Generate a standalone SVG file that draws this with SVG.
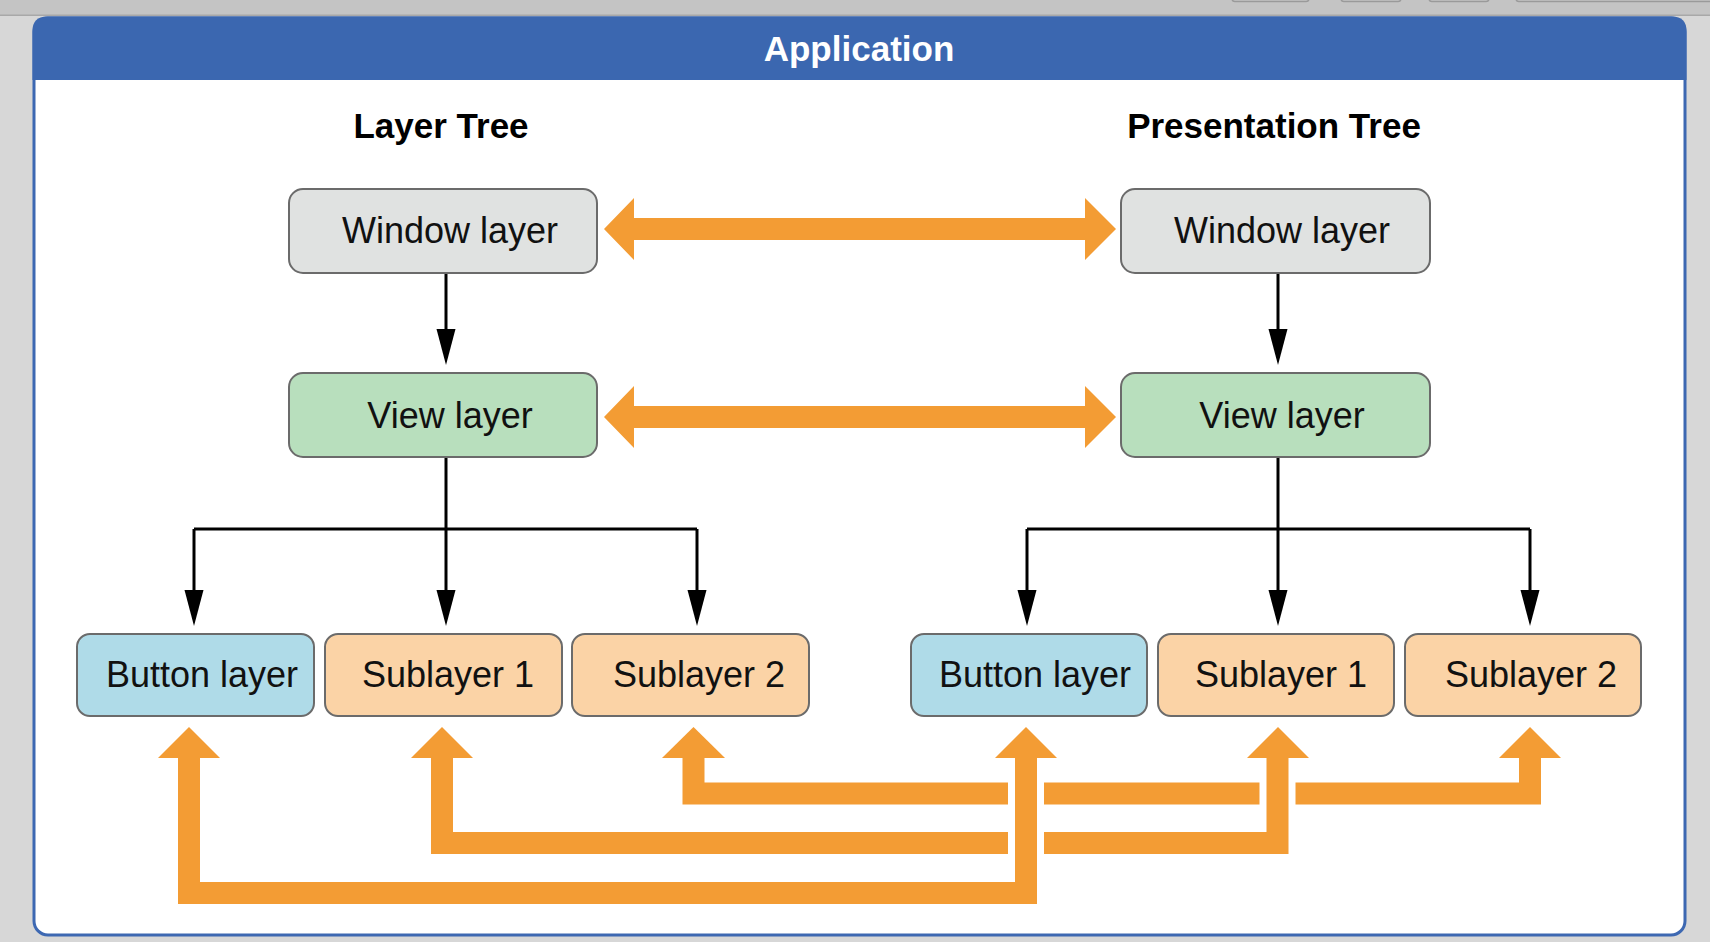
<svg xmlns="http://www.w3.org/2000/svg" width="1710" height="942" viewBox="0 0 1710 942">
<defs>
<style>
.box{stroke:#6b6b6b;stroke-width:2}
.win{fill:#e0e2e1}
.view{fill:#b8dfbd}
.btn{fill:#afdbe8}
.sub{fill:#fbd3a6}
.lbl{font-family:"Liberation Sans",Arial,Helvetica,sans-serif;font-size:36px;fill:#111;text-anchor:middle}
.hdr{font-family:"Liberation Sans",Arial,Helvetica,sans-serif;font-size:35px;font-weight:bold;text-anchor:middle}
.conn{fill:none;stroke:#000;stroke-width:3}
.org{fill:#f39c34}
.ostroke{fill:none;stroke:#f39c34;stroke-width:22;stroke-linejoin:miter}
.halo{fill:none;stroke:#fff;stroke-width:36;stroke-linejoin:miter}
.tab{fill:#c4c4c4;stroke:#9a9a9a;stroke-width:1.5}
</style>
<marker id="ah" markerUnits="userSpaceOnUse" markerWidth="36" markerHeight="20" viewBox="0 0 36 20" refX="26" refY="10" orient="auto">
<path d="M0,0.5 L36,10 L0,19.5 Z" fill="#000"/>
</marker>
</defs>

<g id="background">
<rect x="0" y="0" width="1710" height="942" fill="#d7d7d7"/>
<rect x="0" y="0" width="1710" height="15" fill="#c4c4c4"/>
<rect class="tab" x="1232" y="-6" width="77" height="7.5" rx="3"/>
<rect class="tab" x="1341" y="-6" width="60" height="7.5" rx="3"/>
<rect class="tab" x="1429" y="-6" width="60" height="7.5" rx="3"/>
<rect class="tab" x="1516" y="-6" width="200" height="7.5" rx="3"/>
<line x1="0" y1="15.3" x2="1710" y2="15.3" stroke="#a8a8a8" stroke-width="1.5"/>
</g>

<g id="application">
<rect x="34" y="18" width="1651" height="917" rx="14" fill="#fff" stroke="#3d68b2" stroke-width="3"/>
<path d="M32.5,80 V31 Q32.5,16.5 47,16.5 H1672 Q1686.5,16.5 1686.5,31 V80 Z" fill="#3b67b0"/>
<text class="hdr" x="859" y="61" fill="#fff">Application</text>
</g>

<g id="titles">
<text class="hdr" x="441" y="138" fill="#000">Layer Tree</text>
<text class="hdr" x="1274" y="138" fill="#000">Presentation Tree</text>
</g>

<g id="connectors">
<path class="conn" d="M446,273 V355" marker-end="url(#ah)"/>
<path class="conn" d="M1278,273 V355" marker-end="url(#ah)"/>
<path class="conn" d="M446,457 V616" marker-end="url(#ah)"/>
<path class="conn" d="M194,529 H697"/>
<path class="conn" d="M194,529 V616" marker-end="url(#ah)"/>
<path class="conn" d="M697,529 V616" marker-end="url(#ah)"/>
<path class="conn" d="M1278,457 V616" marker-end="url(#ah)"/>
<path class="conn" d="M1027,529 H1530"/>
<path class="conn" d="M1027,529 V616" marker-end="url(#ah)"/>
<path class="conn" d="M1530,529 V616" marker-end="url(#ah)"/>

<path class="org" d="M604,229 L634,198 L634,218 L1085,218 L1085,198 L1116,229 L1085,260 L1085,240 L634,240 L634,260 Z"/>
<path class="org" d="M604,417 L634,386 L634,406 L1085,406 L1085,386 L1116,417 L1085,448 L1085,428 L634,428 L634,448 Z"/>

<polyline class="ostroke" points="693.5,758 693.5,793.5 1530,793.5 1530,758"/>
<path class="org" d="M662,758 L693.5,727 L725,758 Z"/>
<path class="org" d="M1499,758 L1530,727 L1561,758 Z"/>

<polyline class="halo" points="442,758 442,843 1277.5,843 1277.5,758"/>
<polyline class="ostroke" points="442,758 442,843 1277.5,843 1277.5,758"/>
<path class="org" d="M411,758 L442,727 L473,758 Z"/>
<path class="org" d="M1247,758 L1278,727 L1309,758 Z"/>

<polyline class="halo" points="189,758 189,893 1026,893 1026,758"/>
<polyline class="ostroke" points="189,758 189,893 1026,893 1026,758"/>
<path class="org" d="M158,758 L189,727 L220,758 Z"/>
<path class="org" d="M995,758 L1026,727 L1057,758 Z"/>
</g>

<g id="window-left">
<rect class="box win" x="289" y="189" width="308" height="84" rx="14"/>
<text class="lbl" x="450" y="243">Window layer</text>
</g>
<g id="view-left">
<rect class="box view" x="289" y="373" width="308" height="84" rx="14"/>
<text class="lbl" x="450" y="428">View layer</text>
</g>
<g id="window-right">
<rect class="box win" x="1121" y="189" width="309" height="84" rx="14"/>
<text class="lbl" x="1282" y="243">Window layer</text>
</g>
<g id="view-right">
<rect class="box view" x="1121" y="373" width="309" height="84" rx="14"/>
<text class="lbl" x="1282" y="428">View layer</text>
</g>

<g id="button-left">
<rect class="box btn" x="77" y="634" width="237" height="82" rx="13"/>
<text class="lbl" x="202" y="687">Button layer</text>
</g>
<g id="sublayer1-left">
<rect class="box sub" x="325" y="634" width="237" height="82" rx="13"/>
<text class="lbl" x="448" y="687">Sublayer 1</text>
</g>
<g id="sublayer2-left">
<rect class="box sub" x="572" y="634" width="237" height="82" rx="13"/>
<text class="lbl" x="699" y="687">Sublayer 2</text>
</g>
<g id="button-right">
<rect class="box btn" x="911" y="634" width="236" height="82" rx="13"/>
<text class="lbl" x="1035" y="687">Button layer</text>
</g>
<g id="sublayer1-right">
<rect class="box sub" x="1158" y="634" width="236" height="82" rx="13"/>
<text class="lbl" x="1281" y="687">Sublayer 1</text>
</g>
<g id="sublayer2-right">
<rect class="box sub" x="1405" y="634" width="236" height="82" rx="13"/>
<text class="lbl" x="1531" y="687">Sublayer 2</text>
</g>
</svg>
